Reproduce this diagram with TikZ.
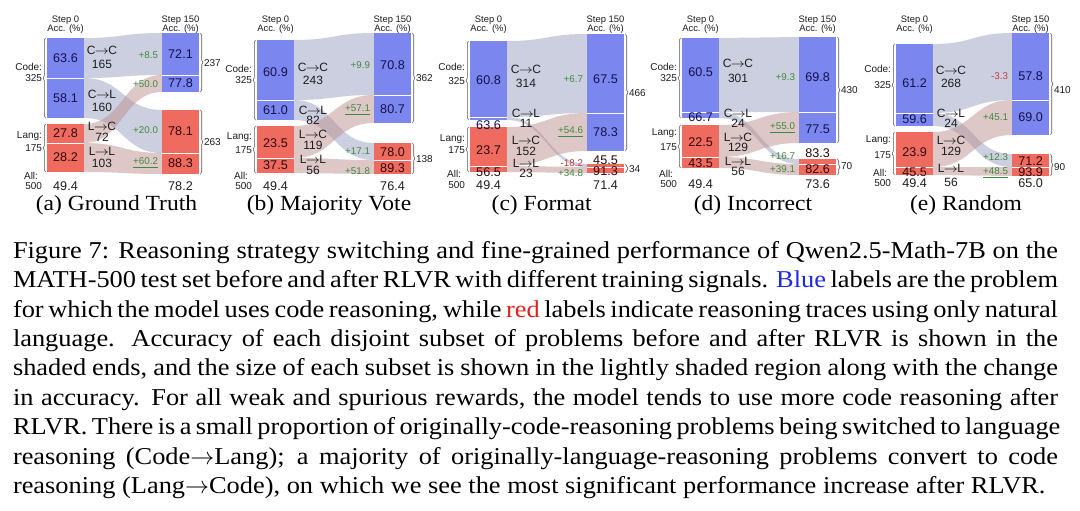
\documentclass[tikz,border=0pt]{standalone}
\usepackage{fontspec}
\usepackage{graphicx}
\setmainfont{Liberation Serif}[FakeStretch=1.09]
\newfontfamily\hv{Liberation Sans}
\usetikzlibrary{decorations.pathreplacing}
\definecolor{barblue}{HTML}{7B86EF}
\definecolor{barred}{HTML}{EF6B5F}
\definecolor{flowc}{HTML}{9BA1C3}
\definecolor{flowl}{HTML}{BD9190}
\definecolor{numblue}{HTML}{12124A}
\definecolor{numred}{HTML}{2E0808}
\definecolor{dgreen}{HTML}{3F8A3F}
\definecolor{dred}{HTML}{C23B3B}
\definecolor{capblue}{HTML}{1F2BE0}
\definecolor{capred}{HTML}{E0241B}
\definecolor{txt}{HTML}{1E1E1E}
\newcommand\pLseg[3]{\fill[#1] (0,#2) rectangle (37,#3);}
\newcommand\pRseg[3]{\fill[#1] (\rx,#2) rectangle (\rx+37,#3);}
\newcommand\pLsep[1]{\draw[sepl] (0,#1) -- (37,#1);}
\newcommand\pRsep[1]{\draw[sepl] (\rx,#1) -- (\rx+37,#1);}
\newcommand\pFlow[5]{\fill[#1] (37,#2) .. controls (\mx,#2) and (\mx,#4) .. (\rx,#4) -- (\rx,#5) .. controls (\mx,#5) and (\mx,#3) .. (37,#3) -- cycle;}
\newcommand\pLbrace[2]{\draw[brc] (-1.5,#2) -- (-1.5,#1);}
\newcommand\pRbrace[2]{\draw[brc] (\rx+38.5,#1) -- (\rx+38.5,#2);}
\newcommand\pAr{$\mkern-1mu\rightarrow\mkern-1mu$}
\newcommand\capw{522.5pt}
\begin{document}
\begin{tikzpicture}[x=0.5pt,y=-0.5pt,
 every node/.style={inner sep=0pt,outer sep=0pt},
 stepl/.style={font=\hv\fontsize{4.7}{5}\selectfont,text=txt},
 bnumb/.style={font=\hv\fontsize{6.3}{7}\selectfont,text=numblue},
 bnumr/.style={font=\hv\fontsize{6.3}{7}\selectfont,text=numred},
 flab/.style={font=\hv\fontsize{6}{7}\selectfont,text=txt},
 dlt/.style={font=\hv\fontsize{4.9}{6}\selectfont,text=dgreen,anchor=east},
 dltn/.style={dlt,text=dred},
 sidel/.style={font=\hv\fontsize{5}{6}\selectfont,text=txt,anchor=east},
 sider/.style={font=\hv\fontsize{5}{6}\selectfont,text=txt,anchor=west},
 botn/.style={font=\hv\fontsize{6.3}{7}\selectfont,text=txt},
 subcap/.style={font=\fontsize{10.8}{12}\selectfont,anchor=base},
 capl/.style={font=\fontsize{12.1}{14.7}\selectfont,anchor=base west},
 cflow/.style={fill=flowc,fill opacity=0.5},
 lflow/.style={fill=flowl,fill opacity=0.5},
 sepl/.style={draw=white,line width=0.4pt},
 brc/.style={decorate,decoration={brace,amplitude=1.2pt,aspect=0.5},draw=black!65,line width=0.3pt}]
\fill[white] (0,0) rectangle (1080,510);
\useasboundingbox (0,0) rectangle (1080,510);

% ================= (a) =================
\begin{scope}[shift={(47,0)}]
\def\rx{115}\def\mx{76}
\pFlow{cflow}{38}{78}{33}{75}
\pFlow{cflow}{78}{118}{110}{153}
\pFlow{lflow}{124}{143}{75}{92}
\pFlow{lflow}{143}{172}{153}{174}
\pLseg{barblue}{38}{118}\pLseg{barred}{124}{172}
\pRseg{barblue}{33}{92}\pRseg{barred}{110}{174}
\pLsep{78}\pLsep{143}\pRsep{75}\pRsep{153}
\pLbrace{38}{118}\pLbrace{124}{172}\pRbrace{33}{92}\pRbrace{110}{174}
\node[stepl] (a-s0) at (18.5,20) {Step 0};
\node[stepl] (a-a0) at (18.5,29) {Acc. (\%)};
\node[stepl] (a-s1) at (\rx+18.5,20) {Step 150};
\node[stepl] (a-a1) at (\rx+18.5,29) {Acc. (\%)};
\node[bnumb] (a-l1) at (18.5,58) {63.6};
\node[bnumb] (a-l2) at (18.5,98) {58.1};
\node[bnumr] (a-l3) at (18.5,133.5) {27.8};
\node[bnumr] (a-l4) at (18.5,157.5) {28.2};
\node[bnumb] (a-r1) at (\rx+18.5,54) {72.1};
\node[bnumb] (a-r2) at (\rx+18.5,83.5) {77.8};
\node[bnumr] (a-r3) at (\rx+18.5,131) {78.1};
\node[bnumr] (a-r4) at (\rx+18.5,163.5) {88.3};
\node[flab] (a-f1) at (55,50) {C\pAr C};
\node[flab] (a-n1) at (55,64) {165};
\node[flab] (a-f2) at (55,94) {C\pAr L};
\node[flab] (a-n2) at (55,107) {160};
\node[flab] (a-f3) at (55,126) {L\pAr C};
\node[flab] (a-n3) at (55,137) {72};
\node[flab] (a-f4) at (55,151) {L\pAr L};
\node[flab] (a-n4) at (55,163) {103};
\node[dlt] (a-d1) at (\rx-4,55) {+8.5};
\node[dlt] (a-d2) at (\rx-4,84) {+50.0};
\node[dlt] (a-d3) at (\rx-4,130) {+20.0};
\node[dlt] (a-d4) at (\rx-4,163) {\underline{+60.2}};
\node[sidel] (a-c1) at (-5,67) {Code:};
\node[sidel] (a-c2) at (-5,78) {325};
\node[sidel] (a-g1) at (-5,136) {Lang:};
\node[sidel] (a-g2) at (-5,148) {175};
\node[sider] (a-t1) at (\rx+42,63) {237};
\node[sider] (a-t2) at (\rx+42,142) {263};
\node[sidel] (a-all) at (-9,176) {All:};
\node[sidel] (a-500) at (-5,186) {500};
\node[botn] (a-b0) at (18.5,186) {49.4};
\node[botn] (a-b1) at (\rx+18.5,186) {78.2};
\node[subcap] (a-cap) at (69.5,210.5) {(a) Ground Truth};
\end{scope}

% ================= (b) =================
\begin{scope}[shift={(257,0)}]
\def\rx{117}\def\mx{77}
\pFlow{cflow}{40}{100}{33}{95}
\pFlow{cflow}{100}{120}{143}{160}
\pFlow{lflow}{126}{158}{95}{123}
\pFlow{lflow}{158}{173}{160}{174}
\pLseg{barblue}{40}{120}\pLseg{barred}{126}{173}
\pRseg{barblue}{33}{123}\pRseg{barred}{143}{174}
\pLsep{100}\pLsep{158}\pRsep{95}\pRsep{160}
\pLbrace{40}{120}\pLbrace{126}{173}\pRbrace{33}{123}\pRbrace{143}{174}
\node[stepl] (b-s0) at (18.5,20) {Step 0};
\node[stepl] (b-a0) at (18.5,29) {Acc. (\%)};
\node[stepl] (b-s1) at (\rx+18.5,20) {Step 150};
\node[stepl] (b-a1) at (\rx+18.5,29) {Acc. (\%)};
\node[bnumb] (b-l1) at (18.5,72) {60.9};
\node[bnumb] (b-l2) at (18.5,110) {61.0};
\node[bnumr] (b-l3) at (18.5,143) {23.5};
\node[bnumr] (b-l4) at (18.5,165.5) {37.5};
\node[bnumb] (b-r1) at (\rx+18.5,65) {70.8};
\node[bnumb] (b-r2) at (\rx+18.5,109.5) {80.7};
\node[bnumr] (b-r3) at (\rx+18.5,152.5) {78.0};
\node[bnumr] (b-r4) at (\rx+18.5,168) {89.3};
\node[flab] (b-f1) at (56,67) {C\pAr C};
\node[flab] (b-n1) at (56,80) {243};
\node[flab] (b-f2) at (56,110) {C\pAr L};
\node[flab] (b-n2) at (56,120) {82};
\node[flab] (b-f3) at (56,134) {L\pAr C};
\node[flab] (b-n3) at (56,145) {119};
\node[flab] (b-f4) at (56,159) {L\pAr L};
\node[flab] (b-n4) at (56,170) {56};
\node[dlt] (b-d1) at (\rx-4,65) {+9.9};
\node[dlt] (b-d2) at (\rx-4,110) {\underline{+57.1}};
\node[dlt] (b-d3) at (\rx-4,151) {+17.1};
\node[dlt] (b-d4) at (\rx-4,171) {+51.8};
\node[sidel] (b-c1) at (-5,69) {Code:};
\node[sidel] (b-c2) at (-5,80) {325};
\node[sidel] (b-g1) at (-5,137) {Lang:};
\node[sidel] (b-g2) at (-5,150) {175};
\node[sider] (b-t1) at (\rx+42,78) {362};
\node[sider] (b-t2) at (\rx+42,159) {138};
\node[sidel] (b-all) at (-9,176) {All:};
\node[sidel] (b-500) at (-5,186) {500};
\node[botn] (b-b0) at (18.5,186) {49.4};
\node[botn] (b-b1) at (\rx+18.5,186) {76.4};
\node[subcap] (b-cap) at (72,210.5) {(b) Majority Vote};
\end{scope}

% ================= (c) =================
\begin{scope}[shift={(470,0)}]
\def\rx{117}\def\mx{77}
\pFlow{cflow}{41}{117}{34}{113}
\pFlow{cflow}{117}{120}{164}{167}
\pFlow{lflow}{127}{166}{113}{151}
\pFlow{lflow}{166}{172}{167}{173}
\pLseg{barblue}{41}{120}\pLseg{barred}{127}{172}
\pRseg{barblue}{34}{151}\pRseg{barred}{164}{173}
\pLsep{117}\pLsep{166}\pRsep{113}\pRsep{167}
\pLbrace{41}{120}\pLbrace{127}{172}\pRbrace{34}{151}\pRbrace{164}{173}
\node[stepl] (c-s0) at (18.5,20) {Step 0};
\node[stepl] (c-a0) at (18.5,29) {Acc. (\%)};
\node[stepl] (c-s1) at (\rx+18.5,20) {Step 150};
\node[stepl] (c-a1) at (\rx+18.5,29) {Acc. (\%)};
\node[bnumb] (c-l1) at (18.5,80) {60.8};
\node[bnumb] (c-l2) at (18.5,125) {63.6};
\node[bnumr] (c-l3) at (18.5,150) {23.7};
\node[bnumr] (c-l4) at (18.5,172) {56.5};
\node[bnumb] (c-r1) at (\rx+18.5,79) {67.5};
\node[bnumb] (c-r2) at (\rx+18.5,132) {78.3};
\node[bnumr] (c-r3) at (\rx+18.5,160.5) {45.5};
\node[bnumr] (c-r4) at (\rx+18.5,171.5) {91.3};
\node[flab] (c-f1) at (56,69) {C\pAr C};
\node[flab] (c-n1) at (56,83) {314};
\node[flab] (c-f2) at (56,113) {C\pAr L};
\node[flab] (c-n2) at (56,123) {11};
\node[flab] (c-f3) at (56,140) {L\pAr C};
\node[flab] (c-n3) at (56,151) {152};
\node[flab] (c-f4) at (56,163) {L\pAr L};
\node[flab] (c-n4) at (56,173) {23};
\node[dlt] (c-d1) at (\rx-4,79) {+6.7};
\node[dlt] (c-d2) at (\rx-4,132) {\underline{+54.6}};
\node[dltn] (c-d3) at (\rx-4,163) {-18.2};
\node[dlt] (c-d4) at (\rx-4,173) {+34.8};
\node[sidel] (c-c1) at (-5,67) {Code:};
\node[sidel] (c-c2) at (-5,81) {325};
\node[sidel] (c-g1) at (-5,139) {Lang:};
\node[sidel] (c-g2) at (-5,150) {175};
\node[sider] (c-t1) at (\rx+42,93) {466};
\node[sider] (c-t2) at (\rx+42,169) {34};
\node[sidel] (c-all) at (-9,173.5) {All:};
\node[sidel] (c-500) at (-5,185) {500};
\node[botn] (c-b0) at (18.5,185) {49.4};
\node[botn] (c-b1) at (\rx+18.5,185) {71.4};
\node[subcap] (c-cap) at (71.7,210.5) {(c) Format};
\end{scope}

% ================= (d) =================
\begin{scope}[shift={(682,0)}]
\def\rx{117}\def\mx{77}
\pFlow{cflow}{38}{112}{37}{112}
\pFlow{cflow}{112}{118}{159}{164}
\pFlow{lflow}{125}{157}{112}{143}
\pFlow{lflow}{157}{168}{164}{175}
\pLseg{barblue}{38}{118}\pLseg{barred}{125}{168}
\pRseg{barblue}{37}{143}\pRseg{barred}{159}{175}
\pLsep{112}\pLsep{157}\pRsep{112}\pRsep{164}
\pLbrace{38}{118}\pLbrace{125}{168}\pRbrace{37}{143}\pRbrace{159}{175}
\node[stepl] (d-s0) at (18.5,20) {Step 0};
\node[stepl] (d-a0) at (18.5,29) {Acc. (\%)};
\node[stepl] (d-s1) at (\rx+18.5,20) {Step 150};
\node[stepl] (d-a1) at (\rx+18.5,29) {Acc. (\%)};
\node[bnumb] (d-l1) at (18.5,72) {60.5};
\node[bnumb] (d-l2) at (18.5,117.5) {66.7};
\node[bnumr] (d-l3) at (18.5,142) {22.5};
\node[bnumr] (d-l4) at (18.5,163) {43.5};
\node[bnumb] (d-r1) at (\rx+18.5,77) {69.8};
\node[bnumb] (d-r2) at (\rx+18.5,129) {77.5};
\node[bnumr] (d-r3) at (\rx+18.5,153) {83.3};
\node[bnumr] (d-r4) at (\rx+18.5,169) {82.6};
\node[flab] (d-f1) at (56,63) {C\pAr C};
\node[flab] (d-n1) at (56,78) {301};
\node[flab] (d-f2) at (56,113) {C\pAr L};
\node[flab] (d-n2) at (56,123) {24};
\node[flab] (d-f3) at (56,137.5) {L\pAr C};
\node[flab] (d-n3) at (56,147.5) {129};
\node[flab] (d-f4) at (56,161) {L\pAr L};
\node[flab] (d-n4) at (56,171.5) {56};
\node[dlt] (d-d1) at (\rx-4,77) {+9.3};
\node[dlt] (d-d2) at (\rx-4,128) {\underline{+55.0}};
\node[dlt] (d-d3) at (\rx-4,156) {+16.7};
\node[dlt] (d-d4) at (\rx-4,169) {+39.1};
\node[sidel] (d-c1) at (-5,67) {Code:};
\node[sidel] (d-c2) at (-5,78) {325};
\node[sidel] (d-g1) at (-5,133) {Lang:};
\node[sidel] (d-g2) at (-5,147) {175};
\node[sider] (d-t1) at (\rx+42,90) {430};
\node[sider] (d-t2) at (\rx+42,166) {70};
\node[sidel] (d-all) at (-9,173.5) {All:};
\node[sidel] (d-500) at (-5,184.5) {500};
\node[botn] (d-b0) at (18.5,184.5) {49.4};
\node[botn] (d-b1) at (\rx+18.5,184.5) {73.6};
\node[subcap] (d-cap) at (71,210.5) {(d) Incorrect};
\end{scope}

% ================= (e) =================
\begin{scope}[shift={(896,0)}]
\def\rx{116}\def\mx{76.5}
\pFlow{cflow}{44}{113}{33}{100}
\pFlow{cflow}{113}{126}{154}{167}
\pFlow{lflow}{132}{167}{100}{135}
\pFlow{lflow}{167}{175}{167}{176}
\pLseg{barblue}{44}{126}\pLseg{barred}{132}{175}
\pRseg{barblue}{33}{135}\pRseg{barred}{154}{176}
\pLsep{113}\pLsep{167}\pRsep{100}\pRsep{167}
\pLbrace{44}{126}\pLbrace{132}{175}\pRbrace{33}{135}\pRbrace{154}{176}
\node[stepl] (e-s0) at (18.5,20) {Step 0};
\node[stepl] (e-a0) at (18.5,29) {Acc. (\%)};
\node[stepl] (e-s1) at (\rx+18.5,20) {Step 150};
\node[stepl] (e-a1) at (\rx+18.5,29) {Acc. (\%)};
\node[bnumb] (e-l1) at (18.5,83) {61.2};
\node[bnumb] (e-l2) at (18.5,119.5) {59.6};
\node[bnumr] (e-l3) at (18.5,152) {23.9};
\node[bnumr] (e-l4) at (18.5,172) {45.5};
\node[bnumb] (e-r1) at (\rx+18.5,76) {57.8};
\node[bnumb] (e-r2) at (\rx+18.5,117.5) {69.0};
\node[bnumr] (e-r3) at (\rx+18.5,161) {71.2};
\node[bnumr] (e-r4) at (\rx+18.5,172) {93.9};
\node[flab] (e-f1) at (55,70) {C\pAr C};
\node[flab] (e-n1) at (55,83) {268};
\node[flab] (e-f2) at (55,113) {C\pAr L};
\node[flab] (e-n2) at (55,123) {24};
\node[flab] (e-f3) at (55,140.5) {L\pAr C};
\node[flab] (e-n3) at (55,151) {129};
\node[flab] (e-f4) at (55,168) {L\pAr L};
\node[flab] (e-n4) at (55,182) {56};
\node[dltn] (e-d1) at (\rx-4,76) {-3.3};
\node[dlt] (e-d2) at (\rx-4,117) {+45.1};
\node[dlt] (e-d3) at (\rx-4,157) {+12.3};
\node[dlt] (e-d4) at (\rx-4,173) {\underline{+48.5}};
\node[sidel] (e-c1) at (-5,69) {Code:};
\node[sidel] (e-c2) at (-5,85) {325};
\node[sidel] (e-g1) at (-5,140) {Lang:};
\node[sidel] (e-g2) at (-5,155) {175};
\node[sider] (e-t1) at (\rx+42,90) {410};
\node[sider] (e-t2) at (\rx+42,167) {90};
\node[sidel] (e-all) at (-9,173) {All:};
\node[sidel] (e-500) at (-5,183.5) {500};
\node[botn] (e-b0) at (18.5,183.5) {49.4};
\node[botn] (e-b1) at (\rx+18.5,183.5) {65.0};
\node[subcap] (e-cap) at (70,210.5) {(e) Random};
\end{scope}

% ================= caption =================
\node[capl] (cap1) at (13,258.3) {\makebox[\capw][s]{Figure 7: Reasoning strategy switching and fine-grained performance of Qwen2.5-Math-7B on the}};
\node[capl] (cap2) at (13,287.7) {\makebox[\capw][s]{MATH-500 test set before and after RLVR with different training signals. {\color{capblue}Blue} labels are the problem}};
\node[capl] (cap3) at (13,317.1) {\makebox[\capw][s]{for which the model uses code reasoning, while {\color{capred}red} labels indicate reasoning traces using only natural}};
\node[capl] (cap4) at (13,346.5) {\makebox[\capw][s]{language.  Accuracy of each disjoint subset of problems before and after RLVR is shown in the}};
\node[capl] (cap5) at (13,375.9) {\makebox[\capw][s]{shaded ends, and the size of each subset is shown in the lightly shaded region along with the change}};
\node[capl] (cap6) at (13,405.3) {\makebox[\capw][s]{in accuracy. For all weak and spurious rewards, the model tends to use more code reasoning after}};
\node[capl] (cap7) at (13,434.7) {\makebox[\capw][s]{RLVR. There is a small proportion of originally-code-reasoning problems being switched to language}};
\node[capl] (cap8) at (13,464.1) {\makebox[\capw][s]{reasoning (Code$\rightarrow$Lang); a majority of originally-language-reasoning problems convert to code}};
\node[capl] (cap9) at (13,493.5) {reasoning (Lang$\rightarrow$Code), on which we see the most significant performance increase after RLVR.};
\end{tikzpicture}
\end{document}
